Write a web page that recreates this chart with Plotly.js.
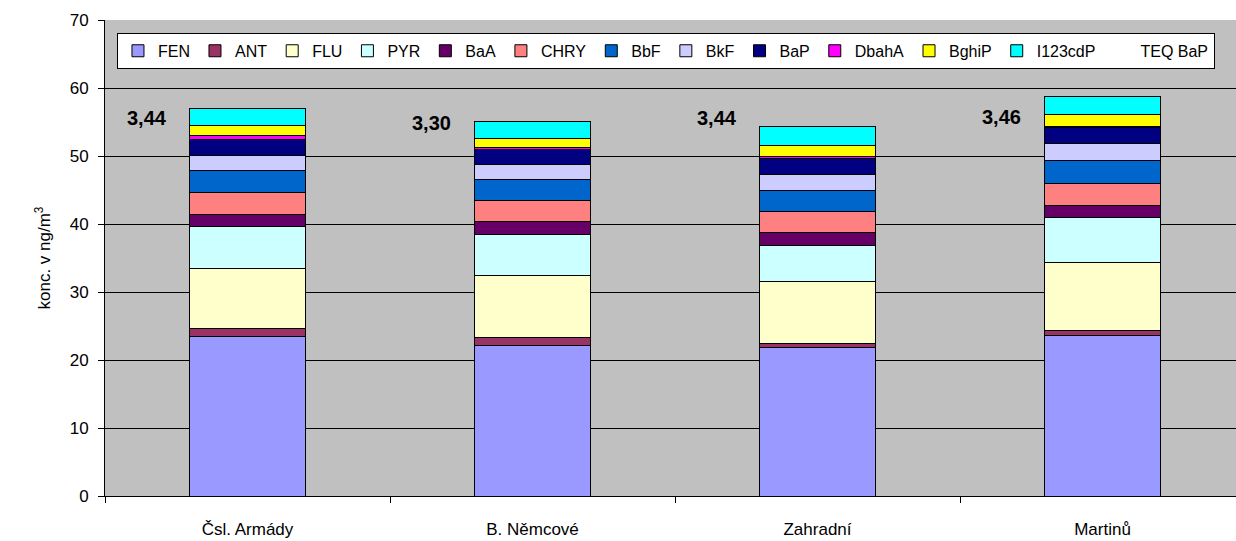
<!DOCTYPE html>
<html>
<head>
<meta charset="utf-8">
<script src="https://cdn.plot.ly/plotly-3.0.1.min.js"></script>
<style>
html,body{margin:0;padding:0;overflow:hidden;background:#fff;}
#chart{width:1246px;height:541px;}
</style>
</head>
<body>
<div id="chart"></div>
<script>
var categories = ["Čsl. Armády", "B. Němcové", "Zahradní", "Martinů"];
var seriesNames = ["FEN","ANT","FLU","PYR","BaA","CHRY","BbF","BkF","BaP","DbahA","BghiP","I123cdP"];
var FEN     = [23.5, 22.2, 21.8, 23.6];
var ANT     = [1.2, 1.1, 0.65, 0.8];
var FLU     = [8.8, 9.1, 9.05, 10.0];
var PYR     = [6.2, 6.1, 5.4, 6.5];
var BaA     = [1.7, 1.8, 1.8, 1.85];
var CHRY    = [3.2, 3.1, 3.2, 3.15];
var BbF     = [3.3, 3.2, 3.0, 3.4];
var BkF     = [2.2, 2.2, 2.4, 2.5];
var BaP     = [2.4, 2.2, 2.4, 2.4];
var DbahA   = [0.5, 0.3, 0.3, 0.2];
var BghiP   = [1.5, 1.3, 1.6, 1.7];
var I123cdP = [2.5, 2.5, 2.7, 2.7];
var TEQ_BaP = [3.44, 3.30, 3.44, 3.46];
var yTicks  = [0, 10, 20, 30, 40, 50, 60, 70];

var seriesValues = [FEN, ANT, FLU, PYR, BaA, CHRY, BbF, BkF, BaP, DbahA, BghiP, I123cdP];
var colors = ["#9999FF","#993366","#FFFFCC","#CCFFFF","#660066","#FF8080","#0066CC","#CCCCFF","#000080","#FF00FF","#FFFF00","#00FFFF"];

var traces = seriesNames.map(function(n, i){
  return {
    type: 'bar', name: n, x: categories, y: seriesValues[i],
    marker: {color: colors[i], line: {color: '#000000', width: 1}},
    hoverinfo: 'none'
  };
});
traces.push({
  type: 'scatter', mode: 'lines', name: 'TEQ BaP', x: categories, y: TEQ_BaP,
  yaxis: 'y2', line: {width: 0, color: 'rgba(0,0,0,0)'}, hoverinfo: 'none'
});

var annotations = TEQ_BaP.map(function(v, i){
  return {
    x: categories[i], y: v, xref: 'x', yref: 'y2',
    text: v.toFixed(2).replace('.', ','), showarrow: false,
    xshift: -101, yshift: -3,
    font: {family: 'Liberation Sans, Arial, sans-serif', size: 20, color: '#000', weight: 'bold'}
  };
});

var layout = {
  width: 1246, height: 541,
  margin: {l: 105, r: 1, t: 20, b: 45},
  paper_bgcolor: '#ffffff', plot_bgcolor: '#C0C0C0',
  font: {family: 'Liberation Sans, Arial, sans-serif', size: 17, color: '#000'},
  barmode: 'stack', bargap: 0.596,
  showlegend: true,
  legend: {
    orientation: 'h', x: 0.0105, y: 0.973, xanchor: 'left', yanchor: 'top',
    bgcolor: '#ffffff', bordercolor: '#000000', borderwidth: 1,
    traceorder: 'normal', font: {size: 16}
  },
  xaxis: {
    type: 'category', showgrid: false, showline: true, linecolor: '#000', linewidth: 1,
    ticks: 'outside', tickson: 'boundaries', ticklen: 6, tickcolor: '#000',
    ticklabelstandoff: 18, tickfont: {size: 17}, zeroline: false, fixedrange: true
  },
  yaxis: {
    range: [0, 70], tickvals: yTicks, ticktext: yTicks.map(String),
    showgrid: true, gridcolor: '#000', gridwidth: 1,
    showline: true, linecolor: '#000', linewidth: 1,
    ticks: 'outside', ticklen: 6, tickcolor: '#000', ticklabelstandoff: 6,
    zeroline: false, tickfont: {size: 17},
    title: {text: 'konc. v ng/m<sup>3</sup>', font: {size: 17}, standoff: 14}
  },
  yaxis2: {
    overlaying: 'y', side: 'right', range: [-7.2, 6.1], visible: false, showgrid: false
  },
  annotations: annotations
};

Plotly.newPlot('chart', traces, layout, {staticPlot: true, displayModeBar: false});
</script>
</body>
</html>
